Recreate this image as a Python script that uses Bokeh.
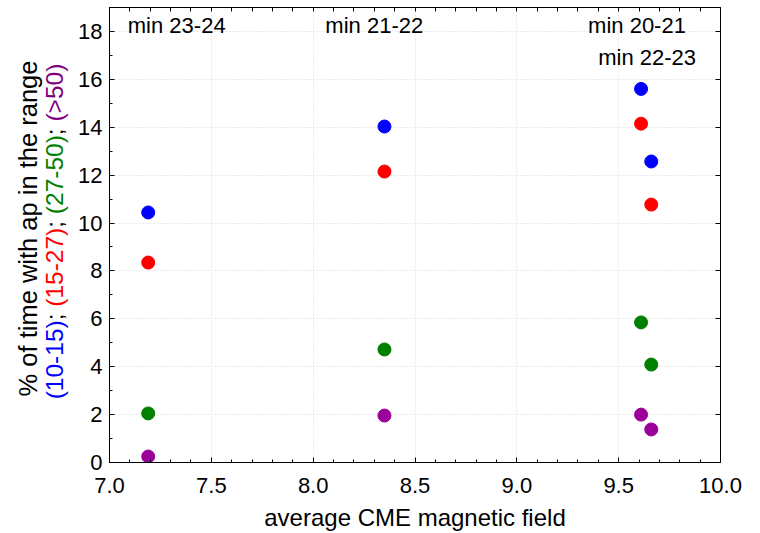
import numpy as np
from bokeh.plotting import figure
from bokeh.layouts import row
from bokeh.models import (ColumnDataSource, LinearAxis, SingleIntervalTicker, FixedTicker,
                          Label, Range1d, NumeralTickFormatter)
from bokeh.core.properties import value
from bokeh.embed import file_html
from bokeh.resources import INLINE

# ---- data ----
field = [7.19, 8.35, 9.61, 9.66]          # average CME magnetic field
ap_10_15 = [10.44, 14.03, 15.60, 12.57]   # % of time, ap in (10-15)
ap_15_27 = [8.35, 12.15, 14.15, 10.77]    # % of time, ap in (15-27)
ap_27_50 = [2.05, 4.72, 5.85, 4.09]       # % of time, ap in (27-50)
ap_gt_50 = [0.25, 1.96, 2.00, 1.38]       # % of time, ap > 50
series_names = ["(10-15)", "(15-27)", "(27-50)", "(>50)"]
series_cols = ["ap_10_15", "ap_15_27", "ap_27_50", "ap_gt_50"]
dot_colors = ["#0000ff", "#ff0000", "#008000", "#9b009b"]
label_colors = ["#0000ff", "#ff0000", "#008000", "#800080"]
minima_labels = ["min 23-24", "min 21-22", "min 20-21", "min 22-23"]
minima_x = [7.33, 8.30, 9.59, 9.64]
minima_y = [18.25, 18.25, 18.25, 16.9]
y_title = "% of time with ap in the range"
x_title = "average CME magnetic field"

FONT = "Liberation Sans"
W, H = 760, 533
LAB_W = 75
TOP, BOTTOM = 7, 71

source = ColumnDataSource(dict(field=field, ap_10_15=ap_10_15, ap_15_27=ap_15_27,
                               ap_27_50=ap_27_50, ap_gt_50=ap_gt_50))

p = figure(width=W - LAB_W, height=H,
           x_range=Range1d(7, 10), y_range=Range1d(0, 19),
           output_backend="svg", toolbar_location=None,
           min_border_left=33, min_border_right=40,
           min_border_top=TOP, min_border_bottom=BOTTOM)
p.background_fill_color = "white"
p.border_fill_color = "white"
p.outline_line_color = "black"
p.outline_line_alpha = 1.0
p.outline_line_width = 1

xt = SingleIntervalTicker(interval=0.5, num_minor_ticks=5)
yt = SingleIntervalTicker(interval=2, num_minor_ticks=2)

for ax, tk in ((p.xaxis[0], xt), (p.yaxis[0], yt)):
    ax.ticker = tk
    ax.major_tick_in = 5
    ax.major_tick_out = 0
    ax.minor_tick_in = 3
    ax.minor_tick_out = 0
    ax.axis_line_color = "black"
    ax.major_tick_line_color = "black"
    ax.minor_tick_line_color = "black"
    ax.major_label_text_font = FONT
    ax.major_label_text_font_size = "22px"
    ax.major_label_text_color = "black"

p.xaxis[0].formatter = NumeralTickFormatter(format="0.0")
p.xaxis[0].major_label_standoff = 15
p.xaxis[0].axis_label = x_title
p.xaxis[0].axis_label_text_font = FONT
p.xaxis[0].axis_label_text_font_size = "24px"
p.xaxis[0].axis_label_text_font_style = "normal"
p.xaxis[0].axis_label_text_color = "black"
p.xaxis[0].axis_label_standoff = 8
p.yaxis[0].major_label_standoff = 7

# tick marks (no labels) on the top and right edges
top_ticks = np.round(np.arange(7.0, 10.0001, 0.1), 1).tolist()
right_ticks = list(range(0, 20, 2))
top = LinearAxis(ticker=FixedTicker(ticks=[], minor_ticks=top_ticks),
                 minor_tick_in=4, minor_tick_out=0, major_tick_in=0, major_tick_out=0,
                 minor_tick_line_color="black", axis_line_color="black")
right = LinearAxis(ticker=FixedTicker(ticks=[], minor_ticks=right_ticks),
                   minor_tick_in=5, minor_tick_out=0, major_tick_in=0, major_tick_out=0,
                   minor_tick_line_color="black", axis_line_color="black")
p.add_layout(top, "above")
p.add_layout(right, "right")

for g in (p.xgrid[0], p.ygrid[0]):
    g.grid_line_color = "#d6d6d6"
    g.grid_line_dash = "1 2"
    g.grid_line_width = 1
p.xgrid[0].ticker = xt
p.ygrid[0].ticker = yt

for col, c in zip(series_cols, dot_colors):
    p.scatter(x="field", y=col, source=source, marker="circle", size=13,
              fill_color=c, line_color=c)

for t, x, y in zip(minima_labels, minima_x, minima_y):
    p.add_layout(Label(x=x, y=y, text=t, text_align="center", text_baseline="middle",
                       text_font=FONT, text_font_size="22px", text_color="black"))

# ---- y-axis title panel: two rotated lines, the second multi-coloured ----
# panel coordinates: 1 unit = 1 px, y measured upward from the bottom of the page
lab = figure(width=LAB_W, height=H, x_range=Range1d(0, LAB_W),
             y_range=Range1d(BOTTOM, H - TOP),
             output_backend="svg", toolbar_location=None,
             x_axis_type=None, y_axis_type=None,
             min_border_left=0, min_border_right=0,
             min_border_top=TOP, min_border_bottom=BOTTOM)
lab.outline_line_color = None
lab.grid.visible = False
lab.background_fill_color = "white"
lab.border_fill_color = "white"

line1_center = H - 228
line2_center = H - 231
em1 = 25.5
em2 = 24.5
widths = [3.223 * em2, 0.556 * em2, 3.223 * em2, 0.556 * em2, 3.223 * em2, 0.556 * em2,
          2.362 * em2]
texts, colors = [], []
for i, (name, c) in enumerate(zip(series_names, label_colors)):
    texts.append(name)
    colors.append(c)
    if i < 3:
        texts.append(";")
        colors.append("black")
starts = line2_center - sum(widths) / 2 + np.concatenate([[0], np.cumsum(widths)[:-1]])

lab.text(x=[27], y=[line1_center], text=[y_title], angle=np.pi / 2,
         text_align="center", text_baseline="alphabetic",
         text_font=value(FONT), text_font_size=value(f"{em1}px"), text_color="black")
lab.text(x=[54] * len(texts), y=starts.tolist(), text=texts, angle=np.pi / 2,
         text_align="left", text_baseline="alphabetic",
         text_font=value(FONT), text_font_size=value(f"{em2}px"), text_color=colors)

layout = row(lab, p)
open("out.html", "w").write(file_html(layout, INLINE))
